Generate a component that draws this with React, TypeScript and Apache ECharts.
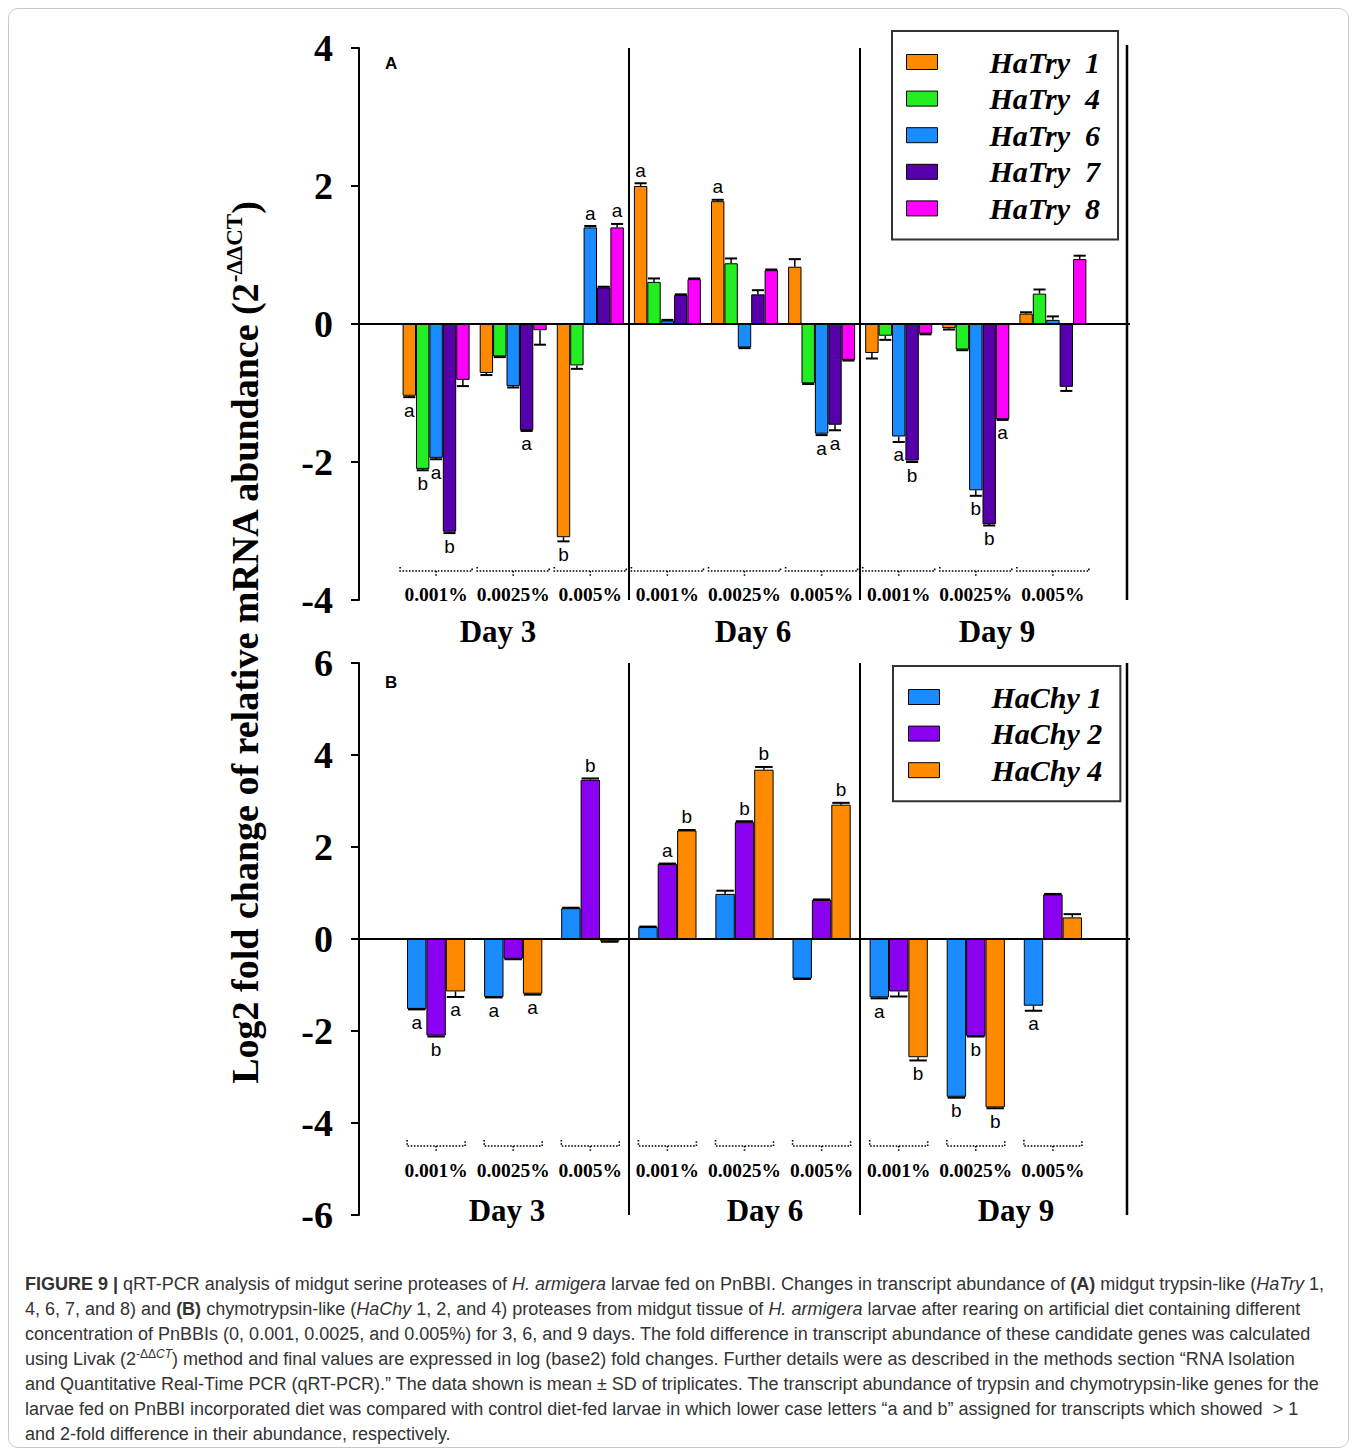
import React, { useEffect, useRef } from "react";
import * as echarts from "echarts";

// ---------- DATA ----------
const groupPositions = [1, 2, 3, 4, 5, 6, 7, 8, 9];
const concentrationLabels = ["0.001%", "0.0025%", "0.005%", "0.001%", "0.0025%", "0.005%", "0.001%", "0.0025%", "0.005%"];
const dayLabels = ["Day 3", "Day 6", "Day 9"];
const daySplits = [3.5, 6.5];

const trypsinNames = ["HaTry 1", "HaTry 4", "HaTry 6", "HaTry 7", "HaTry 8"];
const hatry1 = [-1.04, -0.71, -3.09, 2.0, 1.78, 0.83, -0.42, -0.06, 0.15];
const hatry4 = [-2.1, -0.47, -0.6, 0.61, 0.88, -0.86, -0.17, -0.37, 0.44];
const hatry6 = [-1.94, -0.9, 1.4, 0.05, -0.34, -1.59, -1.63, -2.41, 0.06];
const hatry7 = [-3.01, -1.54, 0.53, 0.42, 0.43, -1.46, -1.98, -2.9, -0.91];
const hatry8 = [-0.81, -0.09, 1.4, 0.65, 0.78, -0.52, -0.14, -1.38, 0.94];
const hatry1Sd = [0.02, 0.03, 0.06, 0.04, 0.02, 0.11, 0.08, 0.02, 0.02];
const hatry4Sd = [0.02, 0.01, 0.05, 0.05, 0.07, 0.01, 0.06, 0.01, 0.06];
const hatry6Sd = [0.02, 0.02, 0.02, 0.01, 0.01, 0.02, 0.08, 0.08, 0.05];
const hatry7Sd = [0.02, 0.01, 0.01, 0.01, 0.06, 0.08, 0.02, 0.02, 0.06];
const hatry8Sd = [0.09, 0.21, 0.05, 0.01, 0.01, 0.01, 0.01, 0.01, 0.05];
const hatry1Sig = ["a", "", "b", "a", "a", "", "", "", ""];
const hatry4Sig = ["b", "", "", "", "", "", "", "", ""];
const hatry6Sig = ["a", "", "a", "", "", "a", "a", "b", ""];
const hatry7Sig = ["b", "a", "", "", "", "a", "b", "b", ""];
const hatry8Sig = ["", "", "a", "", "", "", "", "a", ""];

const chymoNames = ["HaChy 1", "HaChy 2", "HaChy 4"];
const hachy1 = [-1.52, -1.26, 0.67, 0.26, 0.98, -0.86, -1.27, -3.43, -1.45];
const hachy2 = [-2.1, -0.43, 3.46, 1.63, 2.54, 0.85, -1.14, -2.11, 0.97];
const hachy4 = [-1.14, -1.19, -0.05, 2.36, 3.68, 2.92, -2.57, -3.66, 0.47];
const hachy1Sd = [0.01, 0.01, 0.01, 0.01, 0.07, 0.01, 0.02, 0.02, 0.11];
const hachy2Sd = [0.02, 0.01, 0.03, 0.01, 0.02, 0.01, 0.11, 0.01, 0.01];
const hachy4Sd = [0.12, 0.02, 0.01, 0.01, 0.06, 0.04, 0.07, 0.02, 0.07];
const hachy1Sig = ["a", "a", "", "", "", "", "a", "b", "a"];
const hachy2Sig = ["b", "", "b", "a", "b", "", "", "b", ""];
const hachy4Sig = ["a", "a", "", "b", "b", "b", "b", "b", ""];

const axisATicks = { min: -4, max: 4, interval: 2 };
const axisBTicks = { min: -6, max: 6, interval: 2 };

// ---------- STYLE ----------
const SERIF = '"Liberation Serif", "Times New Roman", serif';
const SANS = '"Liberation Sans", Arial, sans-serif';
const trypsinColors = ["#ff8a00", "#22ee22", "#1a8cff", "#5500aa", "#ff00ff"];
const chymoColors = ["#1a8cff", "#8a00f0", "#ff8a00"];

const BAR_W_A = 13.4;
const BAR_W_B = 19.4;

function barSeries(name: string, values: number[], color: string, barW: number, gi: number) {
  return {
    type: "bar",
    name,
    xAxisIndex: gi,
    yAxisIndex: gi,
    barWidth: barW,
    barGap: "0%",
    z: 2,
    data: groupPositions.map((x, i) => [x, values[i]]),
    itemStyle: { color, borderColor: "#000", borderWidth: 1 },
  };
}

function errSeries(
  name: string,
  values: number[],
  sds: number[],
  sig: string[],
  idx: number,
  n: number,
  barW: number,
  gi: number
) {
  return {
    type: "custom",
    name: name + " SD",
    xAxisIndex: gi,
    yAxisIndex: gi,
    z: 5,
    dimensions: ["x", "y", "sd"],
    encode: { x: 0, y: 1 },
    data: groupPositions.map((x, i) => [x, values[i], sds[i]]),
    renderItem: (params: any, api: any) => {
      const i = params.dataIndex;
      const x = api.value(0) as number;
      const v = api.value(1) as number;
      const e = api.value(2) as number;
      const dir = v < 0 ? -1 : 1;
      const p0 = api.coord([x, v]);
      const p1 = api.coord([x, v + dir * e]);
      const cx = p0[0] + (idx - (n - 1) / 2) * barW;
      const cap = barW * 0.9;
      const children: any[] = [
        { type: "line", shape: { x1: cx, y1: p0[1], x2: cx, y2: p1[1] }, style: { stroke: "#000", lineWidth: 1.5 } },
        { type: "line", shape: { x1: cx - cap / 2, y1: p1[1], x2: cx + cap / 2, y2: p1[1] }, style: { stroke: "#000", lineWidth: 2 } },
      ];
      if (sig[i]) {
        children.push({
          type: "text",
          x: cx,
          y: p1[1] - dir * 13,
          style: { text: sig[i], fill: "#000", fontSize: 19, fontFamily: SANS, align: "center", verticalAlign: "middle" },
        });
      }
      return { type: "group", children };
    },
  };
}

function bracketSeries(gi: number, yVal: number, halfW: number, rise: number, drop: number) {
  return {
    type: "custom",
    name: "brackets" + gi,
    xAxisIndex: gi,
    yAxisIndex: gi,
    z: 4,
    data: groupPositions.map((x) => [x, yVal]),
    encode: { x: 0, y: 1 },
    renderItem: (params: any, api: any) => {
      const c = api.coord([api.value(0), api.value(1)]);
      const st = { stroke: "#000", lineWidth: 1.6, lineDash: [1.6, 1.6], fill: null };
      return {
        type: "group",
        children: [
          {
            type: "polyline",
            shape: { points: [[c[0] - halfW, c[1] - rise], [c[0] - halfW, c[1]], [c[0] + halfW, c[1]], [c[0] + halfW, c[1] - rise]] },
            style: st,
          },
          { type: "line", shape: { x1: c[0], y1: c[1], x2: c[0], y2: c[1] + drop }, style: st },
        ],
      };
    },
    markLine: {
      silent: true,
      symbol: ["none", "none"],
      label: { show: false },
      animation: false,
      lineStyle: { color: "#000", width: 2, type: "solid" },
      data: [...daySplits.map((d) => ({ xAxis: d })), { yAxis: 0 }],
    },
  };
}

const yAxisStyle = (t: { min: number; max: number; interval: number }, gi: number) => ({
  type: "value",
  gridIndex: gi,
  min: t.min,
  max: t.max,
  interval: t.interval,
  axisLine: { show: true, onZero: false, lineStyle: { color: "#000", width: 2 } },
  axisTick: { show: true, length: 8, lineStyle: { color: "#000", width: 2 } },
  splitLine: { show: false },
  axisLabel: { margin: 26, fontFamily: SERIF, fontWeight: "bold", fontSize: 38, color: "#000" },
});

const xAxisStyle = (gi: number, margin: number) => ({
  type: "value",
  gridIndex: gi,
  min: 0,
  max: 10,
  interval: 1,
  position: "bottom",
  axisLine: { show: false, onZero: false },
  axisTick: { show: false },
  splitLine: { show: false },
  axisLabel: {
    margin,
    fontFamily: SERIF,
    fontWeight: "bold",
    fontSize: 19.5,
    color: "#000",
    formatter: (v: number) => {
      const i = groupPositions.indexOf(v);
      return i >= 0 ? concentrationLabels[i] : "";
    },
  },
});

const legendStyle = (names: string[], left: number, top: number, pad: number[], gap: string) => ({
  data: names,
  orient: "vertical",
  left,
  top,
  icon: "rect",
  itemWidth: 31,
  itemHeight: 15,
  itemGap: 6.6,
  padding: pad,
  borderColor: "#333",
  borderWidth: 2,
  backgroundColor: "#fff",
  selectedMode: false,
  itemStyle: { borderColor: "#000", borderWidth: 1 },
  formatter: (name: string) => "{g|}{t|" + name.replace(" ", gap) + "}",
  textStyle: {
    fontFamily: SERIF,
    fontStyle: "italic",
    fontWeight: "bold",
    fontSize: 30,
    lineHeight: 30,
    color: "#000",
    rich: {
      g: { width: 47, height: 30 },
      t: { fontFamily: SERIF, fontStyle: "italic", fontWeight: "bold", fontSize: 30, lineHeight: 30, color: "#000" },
    },
  },
});

const dayText = (label: string, x: number, y: number) => ({
  type: "text",
  x,
  y,
  style: { text: label, fontFamily: SERIF, fontWeight: "bold", fontSize: 31, fill: "#000", align: "center", verticalAlign: "middle" },
});

function buildOption() {
  const trV = [hatry1, hatry4, hatry6, hatry7, hatry8];
  const trS = [hatry1Sd, hatry4Sd, hatry6Sd, hatry7Sd, hatry8Sd];
  const trG = [hatry1Sig, hatry4Sig, hatry6Sig, hatry7Sig, hatry8Sig];
  const chV = [hachy1, hachy2, hachy4];
  const chS = [hachy1Sd, hachy2Sd, hachy4Sd];
  const chG = [hachy1Sig, hachy2Sig, hachy4Sig];

  const series: any[] = [];
  trypsinNames.forEach((n, i) => series.push(barSeries(n, trV[i], trypsinColors[i], BAR_W_A, 0)));
  trypsinNames.forEach((n, i) => series.push(errSeries(n, trV[i], trS[i], trG[i], i, 5, BAR_W_A, 0)));
  chymoNames.forEach((n, i) => series.push(barSeries(n, chV[i], chymoColors[i], BAR_W_B, 1)));
  chymoNames.forEach((n, i) => series.push(errSeries(n, chV[i], chS[i], chG[i], i, 3, BAR_W_B, 1)));
  series.push(bracketSeries(0, -3.58, 36, 4, 5));
  series.push(bracketSeries(1, -4.5, 29, 6, 6));

  const dayXA = [490, 745, 989];
  const dayXB = [499, 757, 1008];

  return {
    animation: false,
    grid: [
      { left: 351, top: 40, width: 771, height: 552 },
      { left: 351, top: 655, width: 771, height: 552 },
    ],
    xAxis: [xAxisStyle(0, -15.5), xAxisStyle(1, -54.5)],
    yAxis: [yAxisStyle(axisATicks, 0), yAxisStyle(axisBTicks, 1)],
    legend: [
      legendStyle(trypsinNames, 884, 23, [16, 18, 16, 14], "\u00a0\u00a0"),
      legendStyle(chymoNames, 885, 658, [16, 18, 16, 15], "\u00a0"),
    ],
    graphic: [
      { type: "line", shape: { x1: 1119, y1: 37, x2: 1119, y2: 592 }, style: { stroke: "#000", lineWidth: 2.5 } },
      { type: "line", shape: { x1: 1119, y1: 655, x2: 1119, y2: 1207 }, style: { stroke: "#000", lineWidth: 2.5 } },
      { type: "text", x: 377, y: 47, style: { text: "A", fontFamily: SANS, fontWeight: "bold", fontSize: 17, fill: "#000" } },
      { type: "text", x: 377, y: 666, style: { text: "B", fontFamily: SANS, fontWeight: "bold", fontSize: 17, fill: "#000" } },
      ...dayLabels.map((d, i) => dayText(d, dayXA[i], 623)),
      ...dayLabels.map((d, i) => dayText(d, dayXB[i], 1202)),
      {
        type: "text",
        x: 237,
        y: 635,
        rotation: Math.PI / 2,
        style: {
          text: "{m|Log2 fold change of relative mRNA abundance (2}{s|-ΔΔCT}{m|)}",
          align: "center",
          verticalAlign: "middle",
          fill: "#000",
          rich: {
            m: { fontFamily: SERIF, fontWeight: "bold", fontSize: 38, lineHeight: 44, fill: "#000" },
            s: { fontFamily: SERIF, fontWeight: "bold", fontSize: 23, lineHeight: 44, verticalAlign: "top", padding: [0, 0, 14, 0], fill: "#000" },
          },
        },
      },
    ],
    series,
  };
}

const captionLines: React.ReactNode[] = [
  <>
    <b>FIGURE 9 |</b> qRT-PCR analysis of midgut serine proteases of <i>H. armigera</i> larvae fed on PnBBI. Changes in transcript abundance of <b>(A)</b> midgut trypsin-like (<i>HaTry</i> 1,
  </>,
  <>
    4, 6, 7, and 8) and <b>(B)</b> chymotrypsin-like (<i>HaChy</i> 1, 2, and 4) proteases from midgut tissue of <i>H. armigera</i> larvae after rearing on artificial diet containing different
  </>,
  <>concentration of PnBBIs (0, 0.001, 0.0025, and 0.005%) for 3, 6, and 9 days. The fold difference in transcript abundance of these candidate genes was calculated</>,
  <>
    using Livak (2
    <span style={{ fontSize: 12, verticalAlign: "super", lineHeight: 0 }}>
      -ΔΔ<i>CT</i>
    </span>
    ) method and final values are expressed in log (base2) fold changes. Further details were as described in the methods section “RNA Isolation
  </>,
  <>and Quantitative Real-Time PCR (qRT-PCR).” The data shown is mean ± SD of triplicates. The transcript abundance of trypsin and chymotrypsin-like genes for the</>,
  <>larvae fed on PnBBI incorporated diet was compared with control diet-fed larvae in which lower case letters “a and b” assigned for transcripts which showed &nbsp;&gt; 1</>,
  <>and 2-fold difference in their abundance, respectively.</>,
];

export default function App() {
  const ref = useRef<HTMLDivElement>(null);
  useEffect(() => {
    if (!ref.current) return;
    const chart = echarts.init(ref.current, null, { renderer: "svg" });
    chart.setOption(buildOption() as any);
    return () => chart.dispose();
  }, []);
  return (
    <div
      style={{
        position: "relative",
        width: 1341,
        height: 1440,
        border: "1px solid #c9c9c9",
        borderRadius: 10,
        boxSizing: "border-box",
        background: "#fff",
      }}
    >
      <div ref={ref} style={{ position: "absolute", left: -1, top: -1, width: 1341, height: 1262 }} />
      <div
        style={{
          position: "absolute",
          left: 16,
          top: 1263,
          fontFamily: SANS,
          fontSize: 18,
          lineHeight: "25px",
          color: "#333",
          whiteSpace: "nowrap",
        }}
      >
        {captionLines.map((l, i) => (
          <div key={i}>{l}</div>
        ))}
      </div>
    </div>
  );
}
